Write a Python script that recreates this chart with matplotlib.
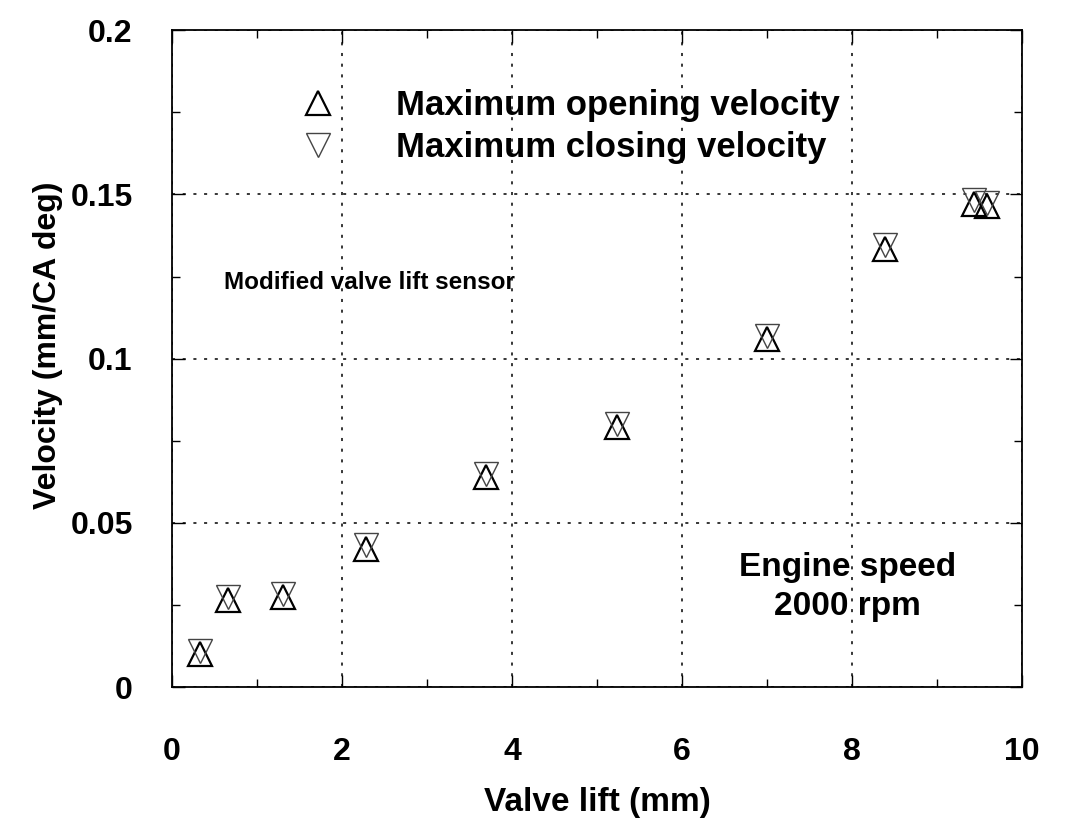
import matplotlib
matplotlib.use("Agg")
import matplotlib.pyplot as plt
from matplotlib.ticker import MultipleLocator

plt.rcParams['font.family'] = ['Liberation Sans', 'DejaVu Sans']
plt.rcParams['font.weight'] = 'bold'
plt.rcParams['axes.labelweight'] = 'bold'

# valve lift (mm) and peak velocities (mm/CA deg)
lift = [0.33, 0.66, 1.31, 2.28, 3.70, 5.24, 7.00, 8.39, 9.43, 9.58]
v_open = [0.0100, 0.0265, 0.0275, 0.0422, 0.0640, 0.0792, 0.1060, 0.1335, 0.1472, 0.1465]
v_close = [0.0110, 0.0275, 0.0285, 0.0432, 0.0650, 0.0802, 0.1070, 0.1345, 0.1482, 0.1475]

fig = plt.figure(figsize=(10.66, 8.38), dpi=100)
ax = fig.add_axes([0.161, 0.180, 0.798, 0.784])

ax.plot(lift, v_open, linestyle='none', marker='^', markersize=17,
        markerfacecolor='none', markeredgecolor='black', markeredgewidth=1.6,
        label='Maximum opening velocity')
ax.plot(lift, v_close, linestyle='none', marker='v', markersize=17,
        markerfacecolor='none', markeredgecolor='#444444', markeredgewidth=1.0,
        label='Maximum closing velocity')

ax.set_xlim(0, 10)
ax.set_ylim(0, 0.2)
ax.xaxis.set_minor_locator(MultipleLocator(1))
ax.yaxis.set_minor_locator(MultipleLocator(0.025))
ax.set_yticks([0, 0.05, 0.1, 0.15, 0.2])
ax.set_yticklabels(['0', '0.05', '0.1', '0.15', '0.2'])
ax.set_xticks([0, 2, 4, 6, 8, 10])
ax.set_xticklabels(['0', '2', '4', '6', '8', '10'])

ax.tick_params(which='both', direction='in', top=True, right=True, width=1)
ax.tick_params(which='major', length=9)
ax.tick_params(which='minor', length=6)
ax.tick_params(axis='x', which='major', labelsize=23, pad=36)
ax.tick_params(axis='y', which='major', labelsize=23, pad=28)

ax.grid(True, which='major', linestyle=(0, (2, 5)), color='black', linewidth=1.1)
for s in ax.spines.values():
    s.set_linewidth(1.3)

ax.set_xlabel('Valve lift (mm)', fontsize=24, labelpad=14)
ax.set_ylabel('Velocity (mm/CA deg)', fontsize=23)
ax.yaxis.set_label_coords(-0.128, 0.52)

ax.legend(loc='upper left', bbox_to_anchor=(0.152, 0.910), frameon=False,
          handlelength=1, handletextpad=1.75, borderpad=0,
          borderaxespad=0, labelspacing=0.25, prop={'weight': 'bold', 'size': 25})

ax.text(0.62, 0.1233, 'Modified valve lift sensor', fontsize=17.5,
        ha='left', va='center')
ax.text(7.95, 0.0305, 'Engine speed\n2000 rpm', fontsize=24,
        ha='center', va='center', multialignment='center', linespacing=1.3)

fig.savefig('out.png', dpi=100)
